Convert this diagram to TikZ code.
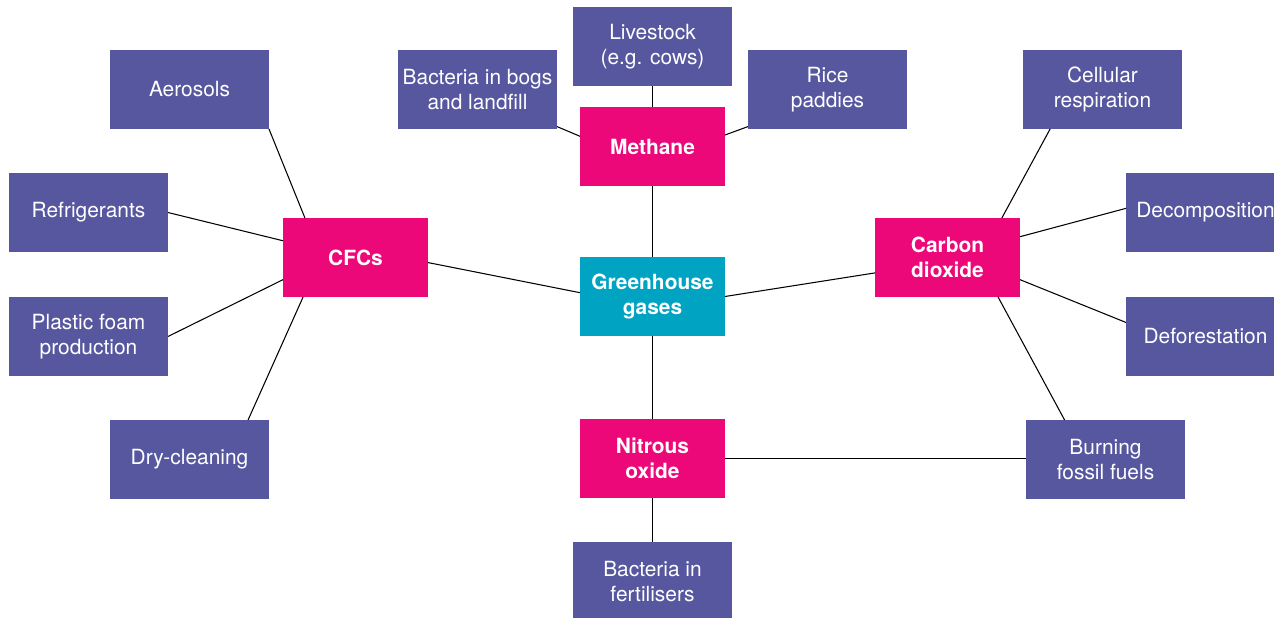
\documentclass[tikz,border=0pt]{standalone}
\usepackage{fontspec}
\setmainfont{TeX Gyre Heros}
\definecolor{ghgteal}{RGB}{0,163,194}
\definecolor{gaspink}{RGB}{236,8,120}
\definecolor{srcpurple}{RGB}{87,87,160}
\usetikzlibrary{positioning}

\begin{document}
\begin{tikzpicture}[x=0.02cm,y=-0.02cm,
    every node/.style={inner sep=0pt,outer sep=0pt,align=center,text=white,
                       font=\fontsize{11.9}{14.2}\selectfont},
    hub/.style={fill=ghgteal,minimum width=2.9cm,minimum height=1.58cm,
                font=\fontsize{11.9}{14.2}\selectfont\bfseries},
    gas/.style={fill=gaspink,minimum width=2.9cm,minimum height=1.58cm,
                font=\fontsize{11.9}{14.2}\selectfont\bfseries},
    source/.style={fill=srcpurple,minimum width=3.18cm,minimum height=1.58cm},
    link/.style={draw=black,line width=0.6pt}]
  \useasboundingbox (0,0) rectangle (1274,618);

  % centre and the four gases
  \node[hub] (ghg) at (652.5,296.5) {Greenhouse\\gases};
  \node[gas] (methane) at (652.5,146.5) {Methane};
  \node[gas] (cfcs) at (355.5,257.5) {CFCs};
  \node[gas] (co2) at (947.5,257.5) {Carbon\\dioxide};
  \node[gas] (nitrous) at (652.5,458.5) {Nitrous\\oxide};

  % sources of CFCs
  \node[source] (aerosols) at (189.5,89.5) {Aerosols};
  \node[source] (fridge) at (88.5,212.5) {Refrigerants};
  \node[source] (foam) at (88.5,336.5) {Plastic foam\\production};
  \node[source] (dryclean) at (189.5,459.5) {Dry-cleaning};

  % sources of methane
  \node[source] (bogs) at (477.5,89.5) {Bacteria in bogs\\and landfill};
  \node[source] (livestock) at (652.5,46.5) {Livestock\\(e.g. cows)};
  \node[source] (rice) at (827.5,89.5) {Rice\\paddies};

  % sources of carbon dioxide
  \node[source] (respiration) at (1102.5,89.5) {Cellular\\respiration};
  \node[source] (decomp) at (1205.5,212.5) {Decomposition};
  \node[source] (deforest) at (1205.5,336.5) {Deforestation};
  \node[source] (fossil) at (1105.5,459.5) {Burning\\fossil fuels};

  % sources of nitrous oxide
  \node[source] (fertiliser) at (652.5,581.5) {Bacteria in\\fertilisers};

  % connectors
  \draw[link] (cfcs.-4) -- (ghg.177);
  \draw[link] (methane.south) -- (ghg.north);
  \draw[link] (ghg.east) -- (co2.192);
  \draw[link] (ghg.south) -- (nitrous.north);

  \draw[link] (aerosols.south east) -- (cfcs.142.5);
  \draw[link] (fridge.east) -- (cfcs.167);
  \draw[link] (foam.east) -- (cfcs.197);
  \draw[link] (dryclean.34) -- (cfcs.217.5);

  \draw[link] (bogs.-25) -- (methane.172);
  \draw[link] (livestock.south) -- (methane.north);
  \draw[link] (rice.205) -- (methane.9);

  \draw[link] (respiration.217) -- (co2.36);
  \draw[link] (decomp.177) -- (co2.16.5);
  \draw[link] (deforest.170) -- (co2.-17);
  \draw[link] (fossil.136) -- (co2.-38);

  \draw[link] (nitrous.east) -- (nitrous.east -| fossil.west);
  \draw[link] (nitrous.south) -- (fertiliser.north);
\end{tikzpicture}
\end{document}
